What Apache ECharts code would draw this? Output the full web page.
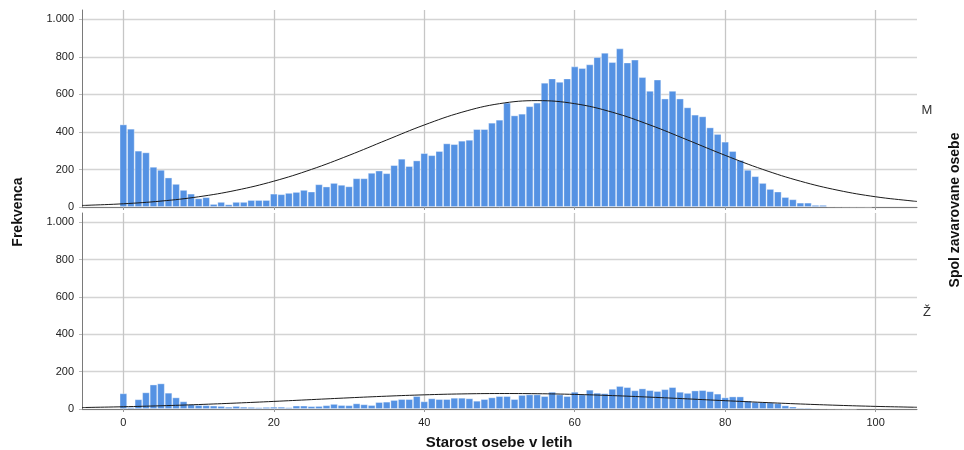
<!DOCTYPE html>
<html><head><meta charset="utf-8">
<script src="https://cdn.jsdelivr.net/npm/echarts@6/dist/echarts.min.js"></script>
<style>html,body{margin:0;padding:0;background:#fff}#c{width:964px;height:450px}</style>
</head><body><div id="c"></div>
<script>
// Age bins (1 year each), first bin = age 0
const firstAge = 0;
const maleCounts = [440,417,300,291,214,198,157,123,91,71,
 46,52,16,27,14,27,27,37,37,37,
 71,68,75,80,91,82,121,109,128,118,
 110,153,153,182,194,180,223,257,218,248,
 287,276,298,339,335,353,358,415,415,449,
 465,556,488,497,537,556,662,685,667,685,
 749,740,760,799,822,772,845,770,785,692,
 619,679,578,619,578,531,492,483,424,389,
 348,298,250,198,164,128,96,82,53,41,
 23,23,11,11,4,3,2,1,1,0];
const femaleCounts = [84,10,52,89,131,137,87,62,41,25,
 21,20,18,16,12,16,12,11,9,11,
 12,12,9,18,18,15,16,20,27,21,
 20,30,25,21,37,39,48,53,53,69,
 41,57,53,53,60,60,57,44,53,62,
 69,69,53,75,78,78,69,92,78,69,
 92,78,103,87,84,108,123,117,100,110,
 101,96,106,117,92,86,99,101,95,82,
 62,67,67,45,38,37,35,31,19,13,
 7,7,5,4,3,2,1,1];
// Normal curves
const curveX = [-5.5,-5,0,5,10,15,20,25,30,35,40,45,50,55,60,65,70,75,80,85,90,95,100,105,105.5];
const maleCurve = [8.2,8.8,17.2,31.5,54.5,89.2,137.6,200.3,275.3,357.1,437.2,505.1,550.8,567,550.8,505.1,437.2,357.1,275.3,200.3,137.6,89.2,54.5,31.5,29.7];
const femaleCurve = [7.8,8.1,12.1,17.3,23.9,31.8,40.7,50.3,59.9,68.7,75.9,80.8,82.9,82.0,78.2,71.8,63.5,54.2,44.5,35.3,26.9,19.8,14.0,9.6,9.2];
const xTicks = [0,20,40,60,80,100];
const yTicks = [0,200,400,600,800,1000];
const panelLabels = ['M','Ž'];
const xTitle = 'Starost osebe v letih';
const yTitle = 'Frekvenca';
const panelTitle = 'Spol zavarovane osebe';

const pairs = (xs, ys) => ys.map((v, i) => [xs[i], v]);
const binPairs = (arr) => arr.map((v, i) => [firstAge + i, v]);

const FONT = 'Liberation Sans, Arial, sans-serif';
function fmt(v){ return v >= 1000 ? String(v).replace(/\B(?=(\d{3})+(?!\d))/g, '.') : String(v); }

function xAxis(gridIndex, showLabels){
  return {
    type: 'value', gridIndex, min: -5.5, max: 105.5,
    axisLine: {show: true, onZero: false, lineStyle: {color: '#7a7a7a', width: 1}},
    axisTick: {show: true, length: 3, customValues: xTicks, lineStyle: {color: '#999'}},
    axisLabel: {show: showLabels, customValues: xTicks, color: '#222', fontFamily: FONT, fontSize: 11, margin: 8},
    splitLine: {show: true, lineStyle: {color: '#c6c6c6', width: 1.3}}
  };
}
function yAxis(gridIndex){
  return {
    type: 'value', gridIndex, min: 0, max: 1050,
    axisLine: {show: true, onZero: false, lineStyle: {color: '#7a7a7a', width: 1}},
    axisTick: {show: true, length: 3, customValues: yTicks, lineStyle: {color: '#bbb'}},
    axisLabel: {customValues: yTicks, color: '#222', fontFamily: FONT, fontSize: 11, margin: 8, formatter: fmt},
    splitLine: {show: true, lineStyle: {color: '#d4d4d4', width: 1.3}}
  };
}
const barStyle = {color: '#5592e3', borderColor: 'rgba(255,255,255,0.45)', borderWidth: 0.8};

const chart = echarts.init(document.getElementById('c'), null, {renderer: 'canvas'});
chart.setOption({
  animation: false,
  backgroundColor: '#fff',
  grid: [
    {left: 82, right: 47, top: 10, height: 197},
    {left: 82, right: 47, top: 213, height: 196}
  ],
  xAxis: [xAxis(0, false), xAxis(1, true)],
  yAxis: [yAxis(0), yAxis(1)],
  series: [
    {type: 'bar', xAxisIndex: 0, yAxisIndex: 0, data: binPairs(maleCounts), barWidth: 7.5, itemStyle: barStyle},
    {type: 'line', xAxisIndex: 0, yAxisIndex: 0, data: pairs(curveX, maleCurve), smooth: 0.4, showSymbol: false, lineStyle: {color: '#1a1a1a', width: 1}, z: 5},
    {type: 'bar', xAxisIndex: 1, yAxisIndex: 1, data: binPairs(femaleCounts), barWidth: 7.5, itemStyle: barStyle},
    {type: 'line', xAxisIndex: 1, yAxisIndex: 1, data: pairs(curveX, femaleCurve), smooth: 0.4, showSymbol: false, lineStyle: {color: '#1a1a1a', width: 1}, z: 5}
  ],
  graphic: [
    {type: 'text', x: 18, y: 212, rotation: Math.PI/2, style: {text: yTitle, font: 'bold 14px ' + FONT, fill: '#111', align: 'center', verticalAlign: 'middle'}},
    {type: 'text', x: 499, y: 443, style: {text: xTitle, font: 'bold 15px ' + FONT, fill: '#111', align: 'center', verticalAlign: 'middle'}},
    {type: 'text', x: 955, y: 210, rotation: Math.PI/2, style: {text: panelTitle, font: 'bold 14px ' + FONT, fill: '#111', align: 'center', verticalAlign: 'middle'}},
    {type: 'text', x: 927, y: 110, style: {text: panelLabels[0], font: '13px ' + FONT, fill: '#333', align: 'center', verticalAlign: 'middle'}},
    {type: 'text', x: 927, y: 312, style: {text: panelLabels[1], font: '13px ' + FONT, fill: '#333', align: 'center', verticalAlign: 'middle'}}
  ]
});
</script></body></html>
